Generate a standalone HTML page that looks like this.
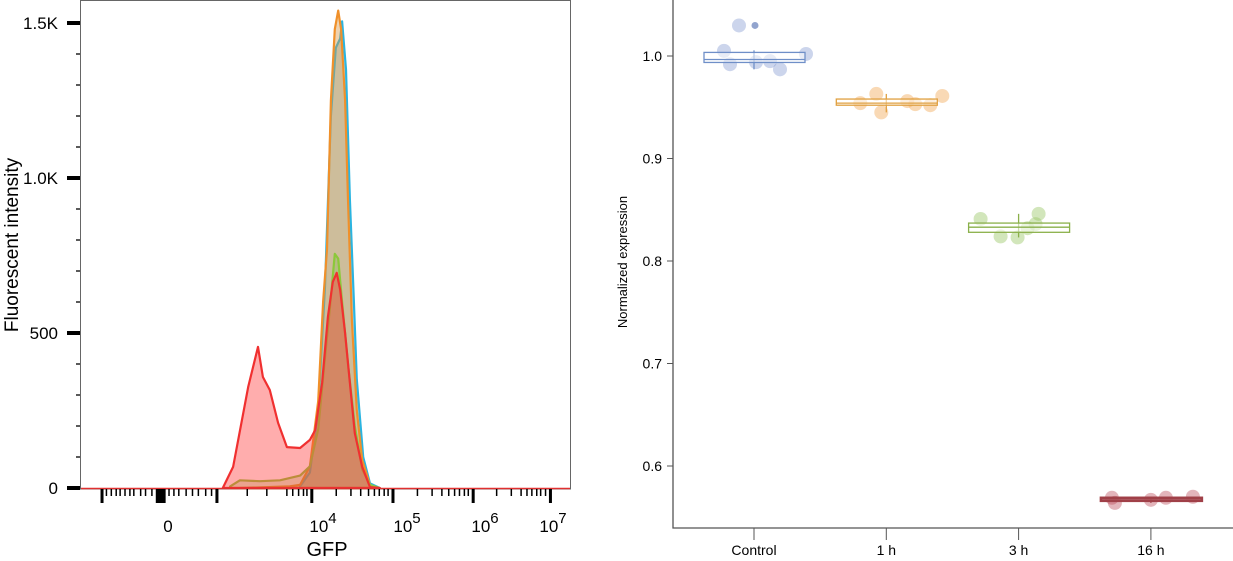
<!DOCTYPE html>
<html><head><meta charset="utf-8"><style>
html,body{margin:0;padding:0;background:#fff;}
svg{display:block;font-family:"Liberation Sans",Arial,sans-serif;}
</style></head><body>
<svg id="root" width="1233" height="561" viewBox="0 0 1233 561">
<g id="left"></g>
<g id="right"></g>
</svg>
<script>
// ---------- Histogram data (channel units 0..1000, counts) ----------
const histRedX = [290,311,342,362,372,386,403,421,448,468,479,493,505,515,523,530,540,550,560,575,591,611];
const histRedY = [0,68,326,455,358,316,210,132,129,155,187,339,552,665,694,639,500,339,177,68,3,0];
const histGreenX = [305,325,366,407,448,468,485,499,509,519,526,534,546,560,575,591,611];
const histGreenY = [5,25,22,25,40,70,190,420,580,755,740,600,400,200,60,10,0];
const histOrangeX = [325,427,448,468,485,495,503,511,519,526,532,540,546,554,564,575,591,607];
const histOrangeY = [0,5,10,70,280,600,770,1250,1480,1540,1480,1250,930,540,250,90,10,0];
const histCyanX = [448,468,485,499,511,521,530,534,542,550,558,564,577,591,611];
const histCyanY = [5,50,250,650,1200,1420,1450,1505,1350,930,600,350,100,15,0];
const yTickVals = [0,500,1000,1500];
const yTickLabels = ["0","500","1.0K","1.5K"];
const xTickLabelChan = [42,118,159,198,232];
const xTickLabelExp = ["","4","5","6","7"];

// ---------- Box plot data ----------
const categories = ["Control","1 h","3 h","16 h"];
const boxLow = [0.9937,0.952,0.828,0.566];
const boxHigh = [1.0035,0.958,0.837,0.569];
const boxMed = [0.9966,0.954,0.833,0.567];
const whiskLow = [0.987,0.945,0.823,0.564];
const whiskHigh = [1.0055,0.963,0.846,0.570];
const ptsControl = [1.0298,1.005,0.992,0.994,0.995,0.987,1.002];
const ptsH1 = [0.954,0.963,0.945,0.956,0.953,0.952,0.961];
const ptsH3 = [0.841,0.824,0.823,0.832,0.836,0.846];
const ptsH16 = [0.569,0.564,0.567,0.569,0.570];
const outliers = [1.0298,null,null,null];
const yTicks2 = [0.6,0.7,0.8,0.9,1.0];

const NS="http://www.w3.org/2000/svg";
function mk(parent,tag,attrs,text){const e=document.createElementNS(NS,tag);for(const k in attrs)e.setAttribute(k,attrs[k]);if(text!==undefined)e.textContent=text;parent.appendChild(e);return e;}

// ---------- Left chart ----------
const L=document.getElementById('left');
const hx=c=>81+c*0.489;
const hy=v=>488-v*0.31;
let fr=mk(L,'rect',{x:80.5,y:0.5,width:490,height:488.5,fill:'none',stroke:'#666','stroke-width':1});


function area(xs,ys,fill,stroke,name){
  let d='M'+hx(xs[0])+','+hy(0);
  xs.forEach((x,i)=>{d+=' L'+hx(x).toFixed(1)+','+hy(ys[i]).toFixed(1);});
  d+=' L'+hx(xs[xs.length-1])+','+hy(0)+' Z';
  const p=mk(L,'path',{d:d,fill:fill,stroke:stroke,'stroke-width':2.2,'stroke-linejoin':'round'});
  
  
}
area(histCyanX,histCyanY,'rgba(130,170,170,0.45)','#2bb4e0','histogram-cyan');
area(histOrangeX,histOrangeY,'rgba(215,150,70,0.42)','#f0902a','histogram-orange');
area(histGreenX,histGreenY,'rgba(110,190,50,0.25)','#8cc83a','histogram-green');
area(histRedX,histRedY,'rgba(255,60,60,0.42)','#f03030','histogram-red');
// baseline red line
let bl=mk(L,'line',{x1:81,y1:488.5,x2:570,y2:488.5,stroke:'#e03030','stroke-width':1.5});


// y ticks
for(let v=100;v<=1500;v+=100){
  if(v%500===0)continue;
  const t=mk(L,'line',{x1:76,x2:80,y1:hy(v),y2:hy(v),stroke:'#000','stroke-width':1.3});
  
  
}
yTickVals.forEach((v,i)=>{
  const t=mk(L,'line',{x1:67,x2:80,y1:hy(v),y2:hy(v),stroke:'#000','stroke-width':4});
  
  
  const tx=mk(L,'text',{x:58,y:hy(v)+6,'text-anchor':'end','font-size':17,fill:'#000'},yTickLabels[i]);
  
  
});
const yt=mk(L,'text',{x:18,y:245,'text-anchor':'middle','font-size':19,transform:'rotate(-90 18 245)'},'Fluorescent intensity');


// x ticks (pixel-free decoration: channel positions)
const majorTicks=[43,156,161,166,170,278,472,638,802,960];
const minorTicks=[52,62,72,80,90,100,108,122,132,145,180,190,200,215,228,240,255,267,340,380,421,433,445,455,462,
 522,552,572,588,600,610,620,628,688,718,738,752,764,774,784,792,850,880,900,912,922,932,940,950];
majorTicks.forEach(c=>{const t=mk(L,'line',{x1:hx(c),x2:hx(c),y1:489,y2:503,stroke:'#000','stroke-width':3});
 
 });
minorTicks.forEach(c=>{const t=mk(L,'line',{x1:hx(c),x2:hx(c),y1:489,y2:496,stroke:'#000','stroke-width':1.5});
 
 });
const xlabPx=[168,323,407,485,553];
xlabPx.forEach((px,i)=>{
  const t=mk(L,'text',{x:px,y:532,'text-anchor':'middle','font-size':17});
  
  
  if(i===0){t.textContent='0';}
  else{t.textContent='10';const s=mk(t,'tspan',{dy:-9,'font-size':15},xTickLabelExp[i]);}
});
const xt=mk(L,'text',{x:327,y:556,'text-anchor':'middle','font-size':20},'GFP');



// ---------- Right chart ----------
const R=document.getElementById('right');
const ry=v=>466-(v-0.6)*1025;
const rx=i=>754+i*132.3;
const colsLine=['#6f8fc8','#e0a040','#8ab04a','#a04048'];
const colsPt=['rgba(120,145,205,0.38)','rgba(242,170,90,0.45)','rgba(155,200,105,0.45)','rgba(185,70,85,0.4)'];
const ptOffsets=[[-15,-30,-24,2,16,26,52],[-26,-10,-5,21,29,44,56],[-38,-18,-1,9,17,20],[-39,-36,0,15,42]];
const allPts=[ptsControl,ptsH1,ptsH3,ptsH16];
let ax=mk(R,'path',{d:'M673,0 L673,528 L1233,528',fill:'none',stroke:'#555','stroke-width':1.3});


yTicks2.forEach(v=>{
  const t=mk(R,'line',{x1:667,x2:673,y1:ry(v),y2:ry(v),stroke:'#555','stroke-width':1});
  
  
  const l=mk(R,'text',{x:662,y:ry(v)+5,'text-anchor':'end','font-size':14},v.toFixed(1));
  
  
});
const yt2=mk(R,'text',{x:627,y:262,'text-anchor':'middle','font-size':13,transform:'rotate(-90 627 262)'},'Normalized expression');


categories.forEach((c,i)=>{
  const x=rx(i);
  const t=mk(R,'line',{x1:x,x2:x,y1:528,y2:540,stroke:'#555','stroke-width':1});
  
  
  const l=mk(R,'text',{x:x,y:555,'text-anchor':'middle','font-size':14},c);
  
  
  allPts[i].forEach((v,j)=>{
    if(outliers[i]!==null && j===0){}
    const p=mk(R,'circle',{cx:x+ptOffsets[i][j],cy:ry(v),r:7,fill:colsPt[i]});
    
    
  });
  const w=mk(R,'line',{x1:x,x2:x,y1:ry(whiskHigh[i]),y2:ry(whiskLow[i]),stroke:colsLine[i],'stroke-width':1.3});
  
  
  const b=mk(R,'rect',{x:x-50,y:ry(boxHigh[i]),width:101,height:Math.max(3,ry(boxLow[i])-ry(boxHigh[i])),fill:'rgba(255,255,255,0.55)',stroke:colsLine[i],'stroke-width':i===3?2.5:1.3});
  
  
  const m=mk(R,'line',{x1:x-50,x2:x+51,y1:ry(boxMed[i]),y2:ry(boxMed[i]),stroke:colsLine[i],'stroke-width':1.3});
  
  
  if(outliers[i]!==null){
    const o=mk(R,'circle',{cx:x+1,cy:ry(outliers[i]),r:3.5,fill:'rgba(100,125,185,0.7)'});
    
    
  }
});
</script>
</body></html>
